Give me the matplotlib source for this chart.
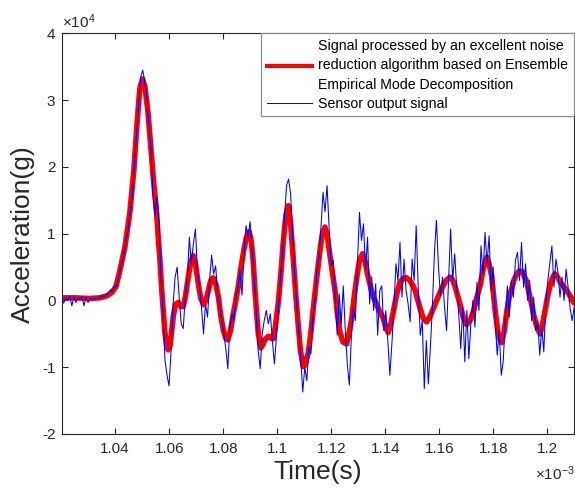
import numpy as np
import matplotlib.pyplot as plt
from matplotlib.ticker import FuncFormatter

plt.rcParams['font.family'] = 'Liberation Sans'
plt.rcParams['mathtext.fontset'] = 'custom'
plt.rcParams['mathtext.rm'] = 'Liberation Sans'
plt.rcParams['mathtext.it'] = 'Liberation Sans:italic'

# EEMD-denoised signal: time in ms, acceleration in 1e4 g
t_eemd = [1.0203, 1.0251, 1.0306, 1.0343, 1.0369, 1.0388, 1.0403, 1.0417, 1.0436, 1.0454,
          1.0469, 1.0480, 1.0491, 1.0501, 1.0510, 1.0521, 1.0532, 1.0543, 1.0553, 1.0559,
          1.0566, 1.0572, 1.0578, 1.0584, 1.0590, 1.0596, 1.0603, 1.0609, 1.0615, 1.0623,
          1.0633, 1.0643, 1.0652, 1.0660, 1.0670, 1.0680, 1.0689, 1.0697, 1.0707, 1.0717,
          1.0727, 1.0736, 1.0745, 1.0754, 1.0763, 1.0773, 1.0782, 1.0791, 1.0801, 1.0810,
          1.0817, 1.0827, 1.0837, 1.0847, 1.0856, 1.0866, 1.0877, 1.0886, 1.0896, 1.0904,
          1.0911, 1.0917, 1.0924, 1.0930, 1.0939, 1.0947, 1.0954, 1.0966, 1.0973, 1.0980,
          1.0986, 1.0993, 1.1004, 1.1014, 1.1022, 1.1032, 1.1041, 1.1049, 1.1059, 1.1069,
          1.1078, 1.1086, 1.1096, 1.1104, 1.1115, 1.1125, 1.1133, 1.1145, 1.1158, 1.1167,
          1.1177, 1.1186, 1.1195, 1.1204, 1.1214, 1.1223, 1.1232, 1.1243, 1.1257, 1.1265,
          1.1276, 1.1284, 1.1294, 1.1304, 1.1316, 1.1325, 1.1332, 1.1341, 1.1350, 1.1358,
          1.1368, 1.1380, 1.1393, 1.1403, 1.1411, 1.1419, 1.1430, 1.1441, 1.1454, 1.1466,
          1.1479, 1.1491, 1.1503, 1.1510, 1.1519, 1.1529, 1.1540, 1.1553, 1.1566, 1.1578,
          1.1593, 1.1609, 1.1625, 1.1640, 1.1649, 1.1658, 1.1667, 1.1677, 1.1688, 1.1701,
          1.1714, 1.1726, 1.1738, 1.1751, 1.1764, 1.1776, 1.1784, 1.1794, 1.1806, 1.1819,
          1.1831, 1.1840, 1.1850, 1.1858, 1.1868, 1.1877, 1.1887, 1.1895, 1.1905, 1.1914,
          1.1924, 1.1932, 1.1942, 1.1951, 1.1961, 1.1973, 1.1982, 1.1991, 1.2001, 1.2010,
          1.2019, 1.2028, 1.2038, 1.2047, 1.2058, 1.2072, 1.2084, 1.2097]
a_eemd = [0.04, 0.04, 0.03, 0.04, 0.07, 0.12, 0.21, 0.44, 0.80, 1.31,
          1.94, 2.60, 3.17, 3.32, 3.20, 2.84, 2.30, 1.75, 1.34, 0.97,
          0.59, 0.18, -0.15, -0.47, -0.66, -0.74, -0.68, -0.47, -0.24, -0.06,
          -0.03, -0.09, -0.09, 0.06, 0.33, 0.58, 0.67, 0.56, 0.27, 0.03,
          -0.06, 0.00, 0.15, 0.30, 0.34, 0.24, 0.06, -0.23, -0.45, -0.57,
          -0.59, -0.45, -0.21, 0.01, 0.22, 0.50, 0.77, 0.95, 1.03, 0.89,
          0.59, 0.18, -0.20, -0.50, -0.71, -0.66, -0.59, -0.54, -0.54, -0.57,
          -0.57, -0.39, -0.03, 0.43, 0.86, 1.28, 1.42, 1.19, 0.65, 0.07,
          -0.38, -0.75, -0.99, -0.96, -0.78, -0.47, -0.14, 0.30, 0.74, 1.00,
          1.10, 0.95, 0.68, 0.43, 0.15, -0.20, -0.47, -0.62, -0.65, -0.51,
          -0.27, 0.03, 0.33, 0.59, 0.70, 0.59, 0.44, 0.28, 0.13, 0.03,
          -0.06, -0.17, -0.27, -0.42, -0.48, -0.38, -0.17, 0.07, 0.27, 0.33,
          0.34, 0.30, 0.22, 0.16, 0.03, -0.12, -0.26, -0.32, -0.24, -0.12,
          0.03, 0.18, 0.30, 0.35, 0.31, 0.22, 0.09, -0.06, -0.24, -0.36,
          -0.30, -0.17, 0.03, 0.22, 0.50, 0.65, 0.55, 0.37, -0.12, -0.54,
          -0.63, -0.47, -0.17, 0.03, 0.18, 0.31, 0.40, 0.44, 0.44, 0.37,
          0.28, 0.12, -0.06, -0.24, -0.39, -0.50, -0.36, -0.17, 0.06, 0.22,
          0.34, 0.40, 0.35, 0.28, 0.22, 0.15, 0.07, -0.02]

# raw sensor output (1e4 g), one sample every 0.75 ns from t0
t0_sensor = 1.0202   # ms
dt_sensor = 0.00075  # ms
a_sensor = [0.02, -0.04, 0.05, 0.00, 0.06, -0.08, 0.05, -0.03, 0.04, 0.02,
            0.06, -0.08, 0.05, -0.03, 0.03, 0.03, 0.02, 0.04, 0.03, 0.05,
            0.07, 0.06, 0.09, 0.10, 0.16, 0.13, 0.22, 0.20, 0.33, 0.48,
            0.60, 0.74, 0.94, 1.12, 1.35, 1.62, 2.08, 2.50, 2.95, 3.35,
            3.45, 3.28, 3.05, 2.65, 2.30, 1.60, 1.28, 1.55, 1.20, 0.35,
            -0.15, -0.90, -1.12, -1.28, -0.75, -0.05, 0.35, 0.50, 0.05, -0.35,
            -0.42, 0.05, 0.30, 0.95, 0.55, 0.85, 1.07, 0.45, 0.20, -0.10,
            -0.50, -0.05, -0.25, 0.30, 0.68, 0.40, 0.52, 0.10, -0.10, -0.30,
            -0.50, -0.72, -1.02, -0.40, -0.20, -0.30, 0.08, 0.18, 0.45, 0.08,
            0.72, 1.12, 0.95, 1.18, 0.75, 0.35, -0.15, -0.75, -1.02, -0.50,
            -0.30, -0.15, -0.35, -0.20, -0.60, -0.95, -0.55, -0.10, 0.35, 0.70,
            1.25, 1.72, 1.82, 1.60, 1.00, 0.40, -0.05, -0.45, -0.88, -1.37,
            -1.00, -1.20, -0.70, -0.80, -0.25, 0.00, 0.45, 0.65, 1.10, 1.62,
            1.33, 1.72, 1.10, 0.52, 0.60, 0.05, -0.52, 0.10, -0.35, 0.22,
            -0.45, -0.95, -1.27, -0.55, -0.10, -0.30, 0.55, 1.32, 0.90, 1.15,
            0.45, 0.95, -0.05, 0.35, -0.15, 0.25, -0.52, 0.15, 0.22, -0.45,
            -0.15, -0.60, -1.12, -0.65, -0.10, 0.55, 0.30, 0.87, 0.05, 0.62,
            0.15, -0.05, -0.32, 0.62, 0.30, 1.12, 0.20, -0.52, -0.30, -1.32,
            -0.60, -1.25, -0.70, -0.10, 0.72, 1.20, 0.50, 0.07, 0.35, -0.10,
            -0.45, 0.30, 1.07, 0.30, 0.70, 0.20, -0.20, -0.72, -0.10, -0.92,
            -0.15, -0.87, -0.35, 0.00, -0.40, 0.27, -0.15, 0.82, 0.40, 1.02,
            0.55, 0.97, 0.15, 0.50, -0.30, -0.82, -0.45, -1.12, -0.90, -0.25,
            0.22, -0.25, 0.30, 0.05, 0.60, 0.72, 0.30, 0.87, 0.20, 0.55,
            0.00, 0.30, -0.30, 0.05, -0.45, -0.30, -0.82, -0.40, -0.77, -0.05,
            0.30, 0.57, 0.82, 0.20, 0.62, 0.42, 0.05, 0.35, 0.00, 0.47,
            0.20, -0.12, -0.30, -0.10]

labels = ['Signal processed by an excellent noise\nreduction algorithm based on Ensemble\nEmpirical Mode Decomposition',
          'Sensor output signal']
xticks_ms = [1.04, 1.06, 1.08, 1.10, 1.12, 1.14, 1.16, 1.18, 1.20]
yticks = [-2, -1, 0, 1, 2, 3, 4]

dark = '#262626'

t_red = np.array(t_eemd) * 1e-3
y_red = np.array(a_eemd) * 1e4
t_blue = (t0_sensor + dt_sensor * np.arange(len(a_sensor))) * 1e-3
y_blue = np.array(a_sensor) * 1e4

fig = plt.figure(figsize=(5.75, 4.91), dpi=100)
ax = fig.add_axes([0.1073, 0.1161, 0.8901, 0.8157])

l_red, = ax.plot(t_red, y_red, color='#ff0000', lw=4, solid_joinstyle='round', zorder=2)
l_blue, = ax.plot(t_blue, y_blue, color='#0000ff', lw=0.75, zorder=3)

ax.set_xlim(1.0202e-3, 1.2097e-3)
ax.set_ylim(-2e4, 4e4)
ax.set_xticks(np.array(xticks_ms) * 1e-3)
ax.set_yticks(np.array(yticks) * 1e4)
ax.xaxis.set_major_formatter(FuncFormatter(lambda v, p: '%g' % round(v * 1e3, 4)))
ax.yaxis.set_major_formatter(FuncFormatter(lambda v, p: '%g' % round(v / 1e4, 4)))

ax.tick_params(direction='in', length=4, width=0.8, colors=dark, labelsize=11,
               top=True, right=True)
ax.tick_params(axis='x', pad=6)
ax.tick_params(axis='y', pad=4.5)
for s in ax.spines.values():
    s.set_color(dark)
    s.set_linewidth(0.8)

ax.set_xlabel('Time(s)', fontsize=19, color=dark, labelpad=3)
ax.set_ylabel('Acceleration(g)', fontsize=19, color=dark, labelpad=5)

ax.text(0.0, 1.006, '×10$^{4}$', transform=ax.transAxes, ha='left', va='bottom',
        fontsize=11, color=dark)
ax.text(0.925, -0.115, '×10$^{-3}$', transform=ax.transAxes, ha='left', va='baseline',
        fontsize=11, color=dark)

leg = ax.legend([l_red, l_blue], labels, loc='upper right', bbox_to_anchor=(1, 1),
                borderaxespad=0, fancybox=False, edgecolor='#8c8c8c', framealpha=1,
                fontsize=10.2, handlelength=3.2, handletextpad=0.4, borderpad=0.4,
                labelspacing=0.35)
leg.get_frame().set_linewidth(0.9)
leg.legend_handles[0].set_linewidth(3)
for txt in leg.get_texts():
    txt.set_linespacing(1.48)

fig.savefig('out.png', dpi=100)
